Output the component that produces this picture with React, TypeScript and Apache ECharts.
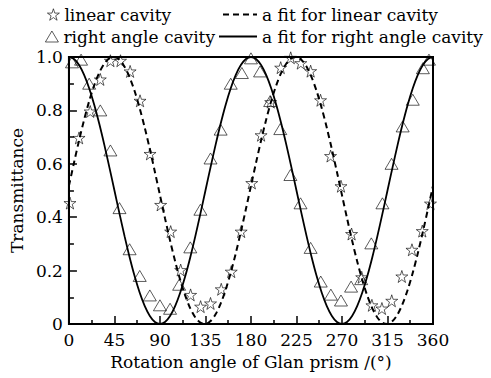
import React, { useEffect, useRef } from "react";
import * as echarts from "echarts";

// Measured points: linear cavity (stars)
const linearAngles = [1, 10, 21, 31, 41, 51, 60.5, 70.3, 80.2, 90.7, 100.6, 110.5, 120.3, 130.2, 140, 150.6, 160.5, 170.3, 180.8, 190, 199.5, 209.4, 219.3, 229.3, 239, 248.8, 258.7, 269, 279.5, 289.5, 299.6, 309.5, 319.2, 329.2, 339.2, 349.4, 357.5];
const linearValues = [0.453, 0.697, 0.796, 0.916, 0.986, 0.986, 0.946, 0.836, 0.637, 0.446, 0.346, 0.202, 0.109, 0.065, 0.077, 0.13, 0.196, 0.346, 0.528, 0.707, 0.831, 0.96, 0.997, 0.977, 0.947, 0.838, 0.629, 0.516, 0.337, 0.175, 0.07, 0.058, 0.087, 0.178, 0.278, 0.348, 0.451];

// Measured points: right angle cavity (triangles)
const rightAngles = [3, 12, 20, 31, 41, 50, 60, 70, 80, 90, 100, 109, 120, 130, 140, 150, 160, 171, 180, 189, 199, 209, 219, 229, 239, 249, 259, 269, 279, 289, 299, 310, 319, 330, 340, 350, 356];
const rightValues = [0.98, 0.99, 0.9, 0.8, 0.65, 0.434, 0.28, 0.18, 0.107, 0.07, 0.057, 0.147, 0.287, 0.428, 0.62, 0.728, 0.9, 0.94, 0.995, 0.946, 0.835, 0.73, 0.558, 0.452, 0.285, 0.159, 0.11, 0.088, 0.14, 0.168, 0.302, 0.452, 0.6, 0.74, 0.84, 0.958, 0.99];

// Fit curves
const fitAngles = [0, 5, 10, 15, 20, 25, 30, 35, 40, 45, 50, 55, 60, 65, 70, 75, 80, 85, 90, 95, 100, 105, 110, 115, 120, 125, 130, 135, 140, 145, 150, 155, 160, 165, 170, 175, 180, 185, 190, 195, 200, 205, 210, 215, 220, 225, 230, 235, 240, 245, 250, 255, 260, 265, 270, 275, 280, 285, 290, 295, 300, 305, 310, 315, 320, 325, 330, 335, 340, 345, 350, 355, 360];
const fitLinear = [0.5174, 0.604, 0.6873, 0.765, 0.8346, 0.894, 0.9415, 0.9755, 0.9951, 0.9997, 0.9891, 0.9636, 0.924, 0.8716, 0.8078, 0.7347, 0.6545, 0.5696, 0.4826, 0.396, 0.3127, 0.235, 0.1654, 0.106, 0.0585, 0.0245, 0.0049, 0.0003, 0.0109, 0.0364, 0.076, 0.1284, 0.1922, 0.2653, 0.3455, 0.4304,
  0.5174, 0.604, 0.6873, 0.765, 0.8346, 0.894, 0.9415, 0.9755, 0.9951, 0.9997, 0.9891, 0.9636, 0.924, 0.8716, 0.8078, 0.7347, 0.6545, 0.5696, 0.4826, 0.396, 0.3127, 0.235, 0.1654, 0.106, 0.0585, 0.0245, 0.0049, 0.0003, 0.0109, 0.0364, 0.076, 0.1284, 0.1922, 0.2653, 0.3455, 0.4304, 0.5174];
const fitRight = [1, 0.9924, 0.9698, 0.933, 0.883, 0.8214, 0.75, 0.671, 0.5868, 0.5, 0.4132, 0.329, 0.25, 0.1786, 0.117, 0.067, 0.0302, 0.0076, 0, 0.0076, 0.0302, 0.067, 0.117, 0.1786, 0.25, 0.329, 0.4132, 0.5, 0.5868, 0.671, 0.75, 0.8214, 0.883, 0.933, 0.9698, 0.9924,
  1, 0.9924, 0.9698, 0.933, 0.883, 0.8214, 0.75, 0.671, 0.5868, 0.5, 0.4132, 0.329, 0.25, 0.1786, 0.117, 0.067, 0.0302, 0.0076, 0, 0.0076, 0.0302, 0.067, 0.117, 0.1786, 0.25, 0.329, 0.4132, 0.5, 0.5868, 0.671, 0.75, 0.8214, 0.883, 0.933, 0.9698, 0.9924, 1];

const names = ["linear cavity", "right angle cavity", "a fit for linear cavity", "a fit for right angle cavity"];
const xTitle = "Rotation angle of Glan prism /(°)";
const yTitle = "Transmittance";

const FONT = "DejaVu Serif";
const STAR = "path://M50,2 L61,36 L97,36 L68,57 L79,92 L50,71 L21,92 L32,57 L3,36 L39,36 Z";

export default function App() {
  const ref = useRef<HTMLDivElement>(null);
  useEffect(() => {
    if (!ref.current) return;
    const chart = echarts.init(ref.current, undefined, { renderer: "svg" });
    const txt = { fontFamily: FONT, fontSize: 17, color: "#000" };
    const legendBase = { orient: "horizontal", padding: 0, itemGap: 0, textStyle: { ...txt } };
    const hideSym = { itemStyle: { opacity: 0 } };
    const hollow = { itemStyle: { color: "rgba(255,255,255,0)", borderColor: "#000", borderWidth: 0.8 } };
    chart.setOption({
      animation: false,
      backgroundColor: "#fff",
      legend: [
        { ...legendBase, ...hollow, data: [names[0]], left: 47, top: 6, itemWidth: 12, itemHeight: 12 },
        { ...legendBase, ...hideSym, data: [names[2]], left: 222, top: 6, itemWidth: 34, itemHeight: 11, lineStyle: { width: 2, type: [6, 4] } },
        { ...legendBase, ...hollow, data: [names[1]], left: 45, top: 28, itemWidth: 13, itemHeight: 11 },
        { ...legendBase, ...hideSym, data: [names[3]], left: 218, top: 28, itemWidth: 38, itemHeight: 11, lineStyle: { width: 2 } },
      ],
      grid: { left: 68, right: 58, top: 57, bottom: 54, show: true, borderColor: "#000", borderWidth: 2, backgroundColor: "#fff" },
      xAxis: {
        type: "value", min: 0, max: 360, interval: 45,
        name: xTitle, nameLocation: "middle", nameGap: 29, nameTextStyle: { ...txt },
        axisLine: { lineStyle: { color: "#000", width: 2 } },
        axisTick: { inside: true, length: 8, lineStyle: { color: "#000", width: 1.5 } },
        minorTick: { show: true, splitNumber: 2, length: 4, lineStyle: { color: "#000", width: 1.5 } },
        axisLabel: { ...txt, margin: 7 },
        splitLine: { show: false },
      },
      yAxis: {
        type: "value", min: 0, max: 1, interval: 0.2,
        name: yTitle, nameLocation: "middle", nameGap: 42, nameTextStyle: { ...txt },
        axisLine: { lineStyle: { color: "#000", width: 2 } },
        axisTick: { inside: true, length: 8, lineStyle: { color: "#000", width: 1.5 } },
        minorTick: { show: true, splitNumber: 2, length: 5, lineStyle: { color: "#000", width: 1.5 } },
        axisLabel: { ...txt, margin: 6, formatter: (v: number) => (v === 0 ? "0" : v.toFixed(1)) },
        splitLine: { show: false },
      },
      series: [
        {
          name: names[2], type: "line", data: fitAngles.map((a, i) => [a, fitLinear[i]]),
          symbol: "none", smooth: 0.3, z: 2,
          lineStyle: { color: "#000", width: 2, type: [6, 4] },
          itemStyle: { color: "#000" },
        },
        {
          name: names[3], type: "line", data: fitAngles.map((a, i) => [a, fitRight[i]]),
          symbol: "none", smooth: 0.3, z: 2,
          lineStyle: { color: "#000", width: 1.8, type: "solid" },
          itemStyle: { color: "#000" },
        },
        {
          name: names[0], type: "scatter", data: linearAngles.map((a, i) => [a, linearValues[i]]),
          symbol: STAR, symbolSize: 12, z: 3,
          itemStyle: { color: "rgba(255,255,255,0)", borderColor: "#000", borderWidth: 0.8 },
        },
        {
          name: names[1], type: "scatter", data: rightAngles.map((a, i) => [a, rightValues[i]]),
          symbol: "triangle", symbolSize: [13, 11], z: 3,
          itemStyle: { color: "rgba(255,255,255,0)", borderColor: "#000", borderWidth: 0.8 },
        },
      ],
    });
    return () => chart.dispose();
  }, []);
  return <div ref={ref} style={{ position: "fixed", left: 0, top: 0, width: 491, height: 378 }} />;
}
